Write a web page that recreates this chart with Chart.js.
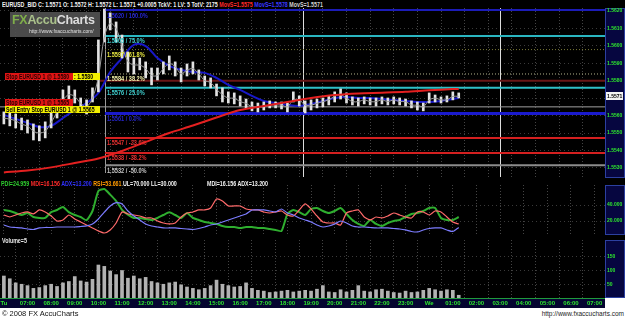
<!DOCTYPE html>
<html lang="en">
<head>
<meta charset="UTF-8">
<title>EURUSD_BID - FX AccuCharts</title>
<style>
    body { margin: 0; background: #fff; }
    #wrap { position: relative; width: 625px; height: 318px; overflow: hidden; background: #fff;
            font-family: 'Liberation Sans', Arial, sans-serif; }
    .bg { position: absolute; background: #000; }
    canvas { position: absolute; left: 0; }
    /* the AccuCharts captions use a narrow pixel font, squeeze Liberation Sans to match */
    .t { position: absolute; white-space: nowrap; font-weight: bold; font-size: 7px; line-height: 7px;
         transform: scaleX(0.76); transform-origin: 0 0; }
    .box { position: absolute; height: 7px; overflow: hidden; padding-left: 1px; box-sizing: border-box;
           font-size: 6.5px; line-height: 7px; }
    .box span { display: inline-block; vertical-align: top; white-space: nowrap; font-weight: bold;
                transform: scaleX(0.8); transform-origin: 0 0; }
</style>
</head>
<body>
<div id="wrap">
    <div class="bg" style="left:0;top:0;width:625px;height:298px"></div>
    <div class="bg" style="left:0;top:298px;width:605px;height:10px"></div>

    <canvas id="priceChart" width="625" height="170" style="top:8px"></canvas>
    <canvas id="indChart" width="625" height="50" style="top:185px"></canvas>
    <canvas id="volChart" width="625" height="68" style="top:240px"></canvas>

    <!-- header line -->
    <div class="t" style="left:2px;top:1px;color:#f2f2f2">EURUSD_BID C: 1.5571 O: 1.5572 H: 1.5572 L: 1.5571 +0.0005 TckV: 1 LV: 5 TotV: 2175
        <span style="color:#ff2a2a">MovS=1.5575</span> <span style="color:#3838ff">MovS=1.5578</span> <span style="color:#d0d0d0">MovS=1.5571</span></div>

    <!-- logo -->
    <div style="position:absolute;left:10px;top:12px;width:90px;height:25px;background:rgba(80,80,80,0.92)"></div>
    <div style="position:absolute;left:12px;top:13px;font-weight:bold;font-size:12.5px;line-height:14px;white-space:nowrap;letter-spacing:-0.3px">
        <span style="color:#7fae4a">FX</span><span style="color:#a9c08a">Accu</span><span style="color:#dcdcdc">Charts</span></div>
    <div style="position:absolute;left:29px;top:28px;font-size:5px;line-height:6px;color:#e0e0e0;white-space:nowrap">http://www.fxaccucharts.com/</div>

    <!-- order labels -->
    <div class="box" style="left:5px;top:73px;width:68px;background:#e01414;color:#2a0000"><span>Stop EURUSD 1 @ 1.5580</span></div>
    <div class="box" style="left:73px;top:73px;width:27px;background:#f2f000;color:#000"><span>: 1.5580</span></div>
    <div class="box" style="left:5px;top:99px;width:68px;background:#e01414;color:#2a0000"><span>Stop EURUSD 1 @ 1.5565</span></div>
    <div class="box" style="left:5px;top:106px;width:95px;background:#f2f000;color:#000"><span>Sell Entry Stop EURUSD 1 @ 1.5565</span></div>

    <!-- indicator header -->
    <div class="t" style="left:1px;top:180px"><span style="color:#2fd02f">PDI=24.959</span> <span style="color:#ff2a2a">MDI=16.156</span> <span style="color:#3030ff">ADX=13.200</span> <span style="color:#ff9a00">RSI=53.661</span> <span style="color:#f2f2f2">UL=70.000 LL=30.000</span></div>
    <div class="t" style="left:207px;top:180px;color:#f2f2f2">MDI=16.156 ADX=13.200</div>

    <div class="t" style="left:2px;top:237px;color:#e8e8e8">Volume=5</div>

    <!-- footer -->
    <div style="position:absolute;left:2px;top:309px;font-size:7.5px;line-height:9px;color:#111">&copy; 2008 FX AccuCharts</div>
    <div style="position:absolute;right:1px;top:309px;font-size:6.5px;line-height:9px;color:#222">http://www.fxaccucharts.com</div>
</div>

<script src="https://cdn.jsdelivr.net/npm/chart.js@4.4.1/dist/chart.umd.min.js"></script>
<script>
// ---- data (hours since Tuesday 00:00) ----
const barTimes = [6, 6.25, 6.5, 6.75, 7, 7.25, 7.5, 7.75, 8, 8.25, 8.5, 8.75, 9, 9.25, 9.5, 9.75,
    10, 10.25, 10.5, 10.75, 11, 11.25, 11.5, 11.75, 12, 12.25, 12.5, 12.75, 13, 13.25, 13.5, 13.75,
    14, 14.25, 14.5, 14.75, 15, 15.25, 15.5, 15.75, 16, 16.25, 16.5, 16.75, 17, 17.25, 17.5, 17.75,
    18, 18.25, 18.5, 18.75, 19, 19.25, 19.5, 19.75, 20, 20.25, 20.5, 20.75, 21, 21.25, 21.5, 21.75,
    22, 22.25, 22.5, 22.75, 23, 23.25, 23.5, 23.75, 24, 24.25, 24.5, 24.75, 25, 25.25];

const priceHigh = [1.55621, 1.55615, 1.55609, 1.55586, 1.55575, 1.55552, 1.55541, 1.55564,
    1.55621, 1.55672, 1.55747, 1.5577, 1.55747, 1.55701, 1.5569, 1.55759,
    1.56034, 1.56211, 1.56189, 1.56137, 1.56062, 1.55965, 1.5593, 1.5593,
    1.55908, 1.55873, 1.55873, 1.55908, 1.55942, 1.55908, 1.55873, 1.55896,
    1.55908, 1.55862, 1.55827, 1.55816, 1.55781, 1.55759, 1.55736, 1.5573,
    1.55713, 1.55695, 1.55678, 1.55672, 1.55678, 1.55684, 1.55678, 1.55678,
    1.55672, 1.55736, 1.55713, 1.55684, 1.5569, 1.55695, 1.55701, 1.55713,
    1.55736, 1.55753, 1.5573, 1.55707, 1.55701, 1.55707, 1.55701, 1.55701,
    1.55707, 1.55701, 1.55707, 1.55701, 1.55695, 1.55684, 1.55678, 1.55672,
    1.5573, 1.55718, 1.55707, 1.55713, 1.55736, 1.5573];

const priceLow = [1.55552, 1.55541, 1.55529, 1.55518, 1.555, 1.5546, 1.55455, 1.55472,
    1.55529, 1.55586, 1.55667, 1.5569, 1.55672, 1.55621, 1.55609, 1.55678,
    1.55736, 1.56022, 1.56091, 1.56022, 1.5593, 1.5585, 1.55839, 1.55862,
    1.55816, 1.55776, 1.55804, 1.55839, 1.55862, 1.55827, 1.55793, 1.55827,
    1.55839, 1.55804, 1.5577, 1.55759, 1.55713, 1.55678, 1.55672, 1.55667,
    1.55655, 1.55644, 1.55627, 1.55621, 1.55632, 1.55644, 1.55644, 1.55638,
    1.55621, 1.55678, 1.55655, 1.55615, 1.55632, 1.55644, 1.5565, 1.55661,
    1.55678, 1.55695, 1.55672, 1.55661, 1.55655, 1.55667, 1.55661, 1.55655,
    1.55667, 1.55661, 1.55667, 1.55661, 1.55655, 1.55644, 1.55632, 1.55627,
    1.55672, 1.55678, 1.55672, 1.55678, 1.5569, 1.55701];

// short moving average (grey line that hugs the bars)
const fastMa = [1.55585, 1.5558, 1.5557, 1.5555, 1.5554, 1.5551, 1.555, 1.5551,
    1.5556, 1.5562, 1.5569, 1.5572, 1.5571, 1.5567, 1.5565, 1.557,
    1.5582, 1.5605, 1.5613, 1.561, 1.56, 1.5591, 1.5589, 1.5589,
    1.5587, 1.5583, 1.5583, 1.5587, 1.559, 1.5588, 1.5584, 1.5586,
    1.5587, 1.5584, 1.558, 1.5579, 1.5575, 1.5572, 1.557, 1.557,
    1.5568, 1.5567, 1.5565, 1.5565, 1.5565, 1.5566, 1.5566, 1.5566,
    1.5565, 1.5569, 1.5569, 1.5566, 1.5566, 1.5567, 1.5568, 1.5569,
    1.5571, 1.5572, 1.557, 1.5568, 1.5568, 1.5569, 1.5568, 1.5568,
    1.5569, 1.5568, 1.5569, 1.5568, 1.5568, 1.5566, 1.5566, 1.5565,
    1.5569, 1.557, 1.5569, 1.5569, 1.5571, 1.5571];

// blue moving average, read every half hour
const midMaTimes = [6, 6.5, 7, 7.5, 8, 8.5, 9, 9.5, 10, 10.5, 11, 11.5, 12, 12.5, 13, 13.5, 14, 14.5, 15, 15.5,
    16, 16.5, 17, 17.5, 18, 18.5, 19, 19.5, 20, 20.5, 21, 21.5, 22, 22.5, 23, 23.5, 24, 24.5, 25, 25.25];
const midMa = [1.55604, 1.55581, 1.55558, 1.55535, 1.55541, 1.55586, 1.55632, 1.55672, 1.5573, 1.5585,
    1.5593, 1.56005, 1.55999, 1.5593, 1.55885, 1.55862, 1.5585, 1.55845, 1.55816, 1.55776,
    1.55747, 1.55713, 1.55684, 1.55672, 1.55661, 1.55655, 1.55667, 1.55684, 1.55701, 1.55707,
    1.55701, 1.55701, 1.55695, 1.5569, 1.55684, 1.55678, 1.55678, 1.55684, 1.55695, 1.55701];

// red (slow) moving average, read every hour
const slowMaTimes = [6, 7, 8, 9, 10, 11, 12, 13, 14, 15, 16, 17, 18, 19, 20, 21, 22, 23, 24, 25, 25.25];
const slowMa = [1.55274, 1.55285, 1.55303, 1.55328, 1.55354, 1.55397, 1.55449, 1.555, 1.55543, 1.55589,
    1.55632, 1.55655, 1.55678, 1.55701, 1.55718, 1.55727, 1.55731, 1.55736, 1.55745, 1.55752, 1.55753];

// fibonacci retracement
const fibStart = 10.28;
const fibHigh = 1.56205;
const fibLow = 1.55612;
const fibPcts = [1, 0.75, 0.618, 0.382, 0.25, 0, -0.236, -0.382, -0.5];
const fibLabels = ['1.5620 / 100.0%', '1.5605 / 75.0%', '1.5597 / 61.8%', '1.5584 / 38.2%', '1.5576 / 25.0%',
    '1.5561 / 0.0%', '1.5547 / -23.6%', '1.5538 / -38.2%', '1.5532 / -50.0%'];
const fibLineColors = ['#1c1cb8', '#2ab6c0', '#7a7a36', '#b4b48a', '#2ec0c8', '#1a1acc', '#d42020', '#d42020', '#8c8c8c'];
const fibTextColors = ['#2626d8', '#3fd0d0', '#e6e640', '#f0f0a8', '#3fd0d0', '#2424c8', '#e83030', '#e83030', '#c8c8c8'];

// pending orders
const stopPrice = 1.5580, stopFrom = 10.07;
const entryPrice = 1.5565;
const lastPrice = 1.5571;
const markerTimes = [18.66, 27.0];

// indicators
const pdi = [33.8, 32.5, 30, 27.5, 30, 25, 23.8, 23.8,
    31, 33.8, 37.5, 31, 27.5, 25, 21, 32.5,
    57.5, 60, 53, 45, 34, 28, 23.8, 23.8,
    22.5, 21.3, 23.8, 27.5, 31, 27.5, 23.8, 30,
    23.8, 21.3, 18.8, 17.5, 16.3, 13.8, 12.5, 12.5,
    11.3, 12.5, 12.5, 11.3, 11.3, 10, 8.8, 7.5,
    28.8, 33.8, 31, 27.5, 35, 36.3, 32.5, 30,
    32.5, 36.3, 28.8, 21.3, 16.3, 13.8, 21.3, 16.3,
    13.8, 17.5, 20, 21.3, 25, 28.8, 30, 32.5,
    36.3, 36.3, 23.8, 21.3, 21.3, 25];
const mdi = [27.5, 25, 27.5, 30, 31.3, 28.8, 33.8, 31.3,
    26.3, 20, 21.3, 27.5, 22.5, 18.8, 15, 11.3,
    7.5, 5, 8.8, 17.5, 31.3, 28.8, 27.5, 26.3,
    23.8, 23.8, 20, 17.5, 16.3, 17.5, 25, 30,
    31.3, 33.8, 33.8, 36.3, 47.5, 45, 38.8, 38.8,
    38.8, 35, 33.8, 33.8, 31.3, 30, 31.3, 32.5,
    27.5, 26.3, 33.8, 41.3, 35, 26.3, 18.8, 17.5,
    17.5, 15, 30, 32.5, 33.8, 25, 21.3, 25,
    23.8, 26.3, 30, 27.5, 25, 23.8, 31.3, 31.3,
    27.5, 32.5, 31.3, 25, 18.8, 16.2];
const adx = [15, 12.5, 11.9, 11.3, 10, 9.4, 11.3, 11.9,
    11.9, 12.5, 12.5, 12.5, 12.5, 13.1, 13.8, 16.3,
    22.5, 31, 38.8, 43, 41.3, 32.5, 26.3, 21.3,
    16.3, 13.8, 12.5, 11.3, 11.3, 11.3, 10.6, 10,
    9.4, 10.6, 12.5, 15, 16.3, 18.8, 21.3, 23.8,
    26.3, 28.8, 33.8, 33.8, 33.8, 32.5, 31.3, 35,
    30, 27.5, 23.8, 21.3, 18.8, 15, 12.5, 13.8,
    16.3, 20, 17.5, 13.8, 12.5, 12.5, 11.9, 11.3,
    11.3, 11.3, 10.6, 10, 8.8, 6.9, 6.3, 8.8,
    10.6, 11.3, 11.3, 8.8, 6.9, 12];

const volume = [80, 70, 55, 50, 45, 35, 38, 45,
    50, 42, 55, 60, 78, 62, 58, 68,
    120, 115, 98, 85, 100, 72, 80, 70,
    75, 60, 55, 50, 55, 58, 48, 40,
    35, 30, 35, 45, 65, 50, 45, 40,
    42, 55, 35, 28, 25, 20, 22, 25,
    28, 22, 25, 28, 25, 32, 45, 22,
    20, 30, 22, 28, 45, 25, 22, 30,
    32, 25, 20, 18, 25, 20, 22, 28,
    35, 30, 25, 30, 28, 10];

// axes
const timeTicks = [6, 7, 8, 9, 10, 11, 12, 13, 14, 15, 16, 17, 18, 19, 20, 21, 22, 23, 24, 25, 26, 27, 28, 29, 30, 31];
const timeLabels = ['Tu', '07:00', '08:00', '09:00', '10:00', '11:00', '12:00', '13:00', '14:00', '15:00', '16:00',
    '17:00', '18:00', '19:00', '20:00', '21:00', '22:00', '23:00', 'We', '01:00', '02:00', '03:00', '04:00',
    '05:00', '06:00', '07:00'];
const priceTicks = [1.553, 1.554, 1.555, 1.556, 1.557, 1.558, 1.559, 1.560, 1.561, 1.562];
const indTicks = [20, 40];
const volTicks = [50, 100, 150];

const X_MIN = 5.836, X_MAX = 31.44;
const AXIS_W = 20;
const FONT = "'Liberation Sans', Arial, sans-serif";
const GREEN = '#2ee62e';

function noPadding(s) {
    s.paddingTop = 0; s.paddingBottom = 0; s.paddingLeft = 0; s.paddingRight = 0;
}

function xAxis(showLabels) {
    return {
        type: 'linear', min: X_MIN, max: X_MAX, offset: false,
        afterBuildTicks: s => { s.ticks = timeTicks.map(v => ({ value: v })); },
        grid: { color: '#444', drawTicks: false },
        border: { display: false, dash: [1, 2] },
        ticks: {
            display: showLabels, autoSkip: false, maxRotation: 0, padding: 2, color: GREEN,
            font: { family: FONT, size: 6, weight: 'bold' },
            callback: v => timeLabels[timeTicks.indexOf(v)]
        },
        afterFit: s => { s.height = showLabels ? 10 : 0; noPadding(s); }
    };
}

function yAxis(min, max, tickValues, fmt) {
    return {
        position: 'right', min: min, max: max,
        afterBuildTicks: s => { s.ticks = tickValues.map(v => ({ value: v })); },
        grid: { color: '#3a3a3a', drawTicks: false },
        border: { display: false, dash: [1, 3] },
        ticks: { color: GREEN, padding: 2, font: { family: FONT, size: 5, weight: 'bold' }, callback: fmt },
        afterFit: s => { s.width = AXIS_W; noPadding(s); }
    };
}

// navy box behind the right-hand value axis (and the time strip under the volume)
const axisBox = {
    id: 'axisBox',
    beforeDraw(chart) {
        const s = chart.scales.y, ctx = chart.ctx;
        ctx.save();
        ctx.fillStyle = '#060640';
        ctx.fillRect(s.left, s.top, s.right - s.left, s.bottom - s.top);
        ctx.strokeStyle = '#2c40a0';
        ctx.strokeRect(s.left + 0.5, s.top + 0.5, s.right - s.left - 1, s.bottom - s.top - 1);
        if (chart.options.plugins.axisBox.timeStrip) {
            const x = chart.scales.x;
            ctx.fillStyle = '#050530';
            ctx.fillRect(x.left, x.top, x.right - x.left, x.bottom - x.top);
            ctx.fillStyle = '#1f9a3c';
            ctx.fillRect(x.left, x.top, x.right - x.left, 1);
        }
        ctx.restore();
    }
};

// vertical markers, fib labels and the last price tag
const priceOverlay = {
    id: 'priceOverlay',
    beforeDatasetsDraw(chart) {
        const { ctx, chartArea: a, scales: { x } } = chart;
        ctx.save();
        ctx.lineWidth = 1;
        ctx.strokeStyle = '#9a9a9a';
        let px = Math.round(x.getPixelForValue(fibStart)) + 0.5;
        ctx.beginPath(); ctx.moveTo(px, a.top); ctx.lineTo(px, a.bottom - 5); ctx.stroke();
        ctx.strokeStyle = '#dcdcdc';
        markerTimes.forEach(t => {
            px = Math.round(x.getPixelForValue(t)) + 0.5;
            ctx.beginPath(); ctx.moveTo(px, a.top); ctx.lineTo(px, a.bottom - 1); ctx.stroke();
        });
        ctx.restore();
    },
    afterDatasetsDraw(chart) {
        const { ctx, scales: { x, y } } = chart;
        const left = x.getPixelForValue(fibStart) + 2;
        ctx.save();
        ctx.font = 'bold 7px ' + FONT;
        ctx.textBaseline = 'top';
        fibPcts.forEach((p, i) => {
            const py = y.getPixelForValue(fibLow + p * (fibHigh - fibLow));
            ctx.save();
            ctx.translate(left, py + 2);
            ctx.scale(0.8, 1);
            ctx.fillStyle = fibTextColors[i];
            ctx.fillText(fibLabels[i], 0, 0);
            ctx.restore();
        });
        ctx.restore();
    },
    afterDraw(chart) {
        const { ctx, scales: { y } } = chart;
        const py = Math.round(y.getPixelForValue(lastPrice));
        ctx.save();
        ctx.fillStyle = '#f4f4f4';
        ctx.fillRect(y.left + 1, py - 4, y.right - y.left - 3, 8);
        ctx.fillStyle = '#000';
        ctx.font = 'bold 5px ' + FONT;
        ctx.textBaseline = 'middle';
        ctx.fillText(lastPrice.toFixed(4), y.left + 2, py + 0.5);
        ctx.restore();
    }
};

function pts(times, values) {
    return times.map((t, i) => ({ x: t, y: values[i] }));
}

function hLine(from, to, level) {
    return [{ x: from, y: level }, { x: to, y: level }];
}

const common = {
    responsive: false,
    animation: false,
    events: [],
    layout: { padding: 0 },
    plugins: { legend: { display: false }, tooltip: { enabled: false } }
};

// ---- price panel ----
const fibSets = fibPcts.map((p, i) => ({
    type: 'line',
    data: hLine(fibStart, X_MAX, fibLow + p * (fibHigh - fibLow)),
    borderColor: fibLineColors[i],
    borderWidth: (i === 2 || i === 3) ? 1 : (i === 5 ? 3 : 2),
    borderDash: (i === 2 || i === 3) ? [1, 2] : [],
    pointRadius: 0,
    order: 10
}));

new Chart(document.getElementById('priceChart'), {
    data: {
        datasets: [
            ...fibSets,
            { type: 'line', data: hLine(stopFrom, X_MAX, stopPrice), borderColor: '#6a1616', borderWidth: 2, pointRadius: 0, order: 9 },
            { type: 'line', data: hLine(X_MIN, X_MAX, entryPrice), borderColor: '#a0a0a0', borderWidth: 1, pointRadius: 0, order: 9 },
            { type: 'line', data: pts(midMaTimes, midMa), borderColor: '#1818c8', borderWidth: 2, pointRadius: 0, tension: 0.35, order: 5 },
            {
                type: 'bar', data: barTimes.map((t, i) => ({ x: t, y: [priceLow[i], priceHigh[i]] })),
                backgroundColor: '#e2e2e2', barThickness: 2, order: 4
            },
            { type: 'line', data: pts(barTimes, fastMa), borderColor: '#9c9c9c', borderWidth: 1, pointRadius: 0, tension: 0.3, order: 3 },
            { type: 'line', data: pts(slowMaTimes, slowMa), borderColor: '#e42020', borderWidth: 2, pointRadius: 0, tension: 0.3, order: 2 }
        ]
    },
    options: {
        ...common,
        plugins: { ...common.plugins, axisBox: {} },
        scales: {
            x: xAxis(false),
            y: yAxis(1.55242, 1.56217, priceTicks, v => v.toFixed(4))
        }
    },
    plugins: [axisBox, priceOverlay]
});

// ---- DMI / RSI panel ----
new Chart(document.getElementById('indChart'), {
    type: 'line',
    data: {
        datasets: [
            { data: pts(barTimes, adx), borderColor: '#7c7cff', borderWidth: 1.2, pointRadius: 0, tension: 0.2 },
            { data: pts(barTimes, mdi), borderColor: '#ff6a6a', borderWidth: 1.2, pointRadius: 0, tension: 0.2 },
            { data: pts(barTimes, pdi), borderColor: '#2fae2f', borderWidth: 2, pointRadius: 0, tension: 0.2 }
        ]
    },
    options: {
        ...common,
        plugins: { ...common.plugins, axisBox: {} },
        scales: {
            x: xAxis(false),
            y: yAxis(2.5, 65, indTicks, v => v.toFixed(3))
        }
    },
    plugins: [axisBox]
});

// ---- volume panel ----
new Chart(document.getElementById('volChart'), {
    type: 'bar',
    data: {
        datasets: [{
            data: pts(barTimes, volume),
            backgroundColor: '#b2b2b2',
            barThickness: 3
        }]
    },
    options: {
        ...common,
        plugins: { ...common.plugins, axisBox: { timeStrip: true } },
        scales: {
            x: xAxis(true),
            y: yAxis(0, 211, volTicks, v => String(v))
        }
    },
    plugins: [axisBox]
});
</script>
</body>
</html>
